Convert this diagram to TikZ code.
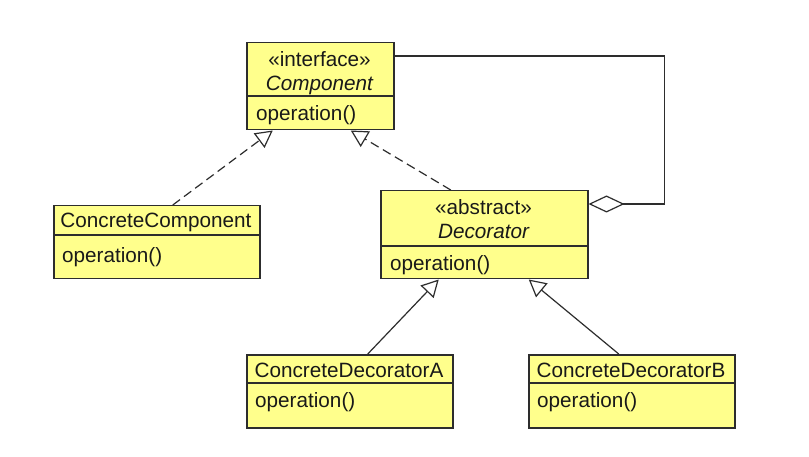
\documentclass[tikz,border=0pt]{standalone}
\usepackage{fontspec}
\setmainfont{Liberation Sans}
\usetikzlibrary{arrows.meta}
\definecolor{classfill}{RGB}{255,255,140}
\definecolor{classline}{RGB}{45,45,45}
\tikzstyle{classbox} = [draw=classline, line width=1.5pt, fill=classfill, anchor=north west, inner sep=0pt]
\tikzstyle{divider} = [draw=classline, line width=1.4pt]
\tikzstyle{classname} = [anchor=base, inner sep=0pt, text=black!90]
\tikzstyle{optext} = [anchor=base west, inner sep=0pt, text=black!90]
\tikzstyle{realize} = [draw=classline, line width=1.2pt, dash pattern=on 9pt off 5pt, -{Triangle[length=17pt,width=18pt,fill=white]}]
\tikzstyle{inherit} = [draw=classline, line width=1.2pt, -{Triangle[length=17pt,width=18pt,fill=white]}]
\tikzstyle{aggregate} = [draw=classline, line width=1.2pt, {Diamond[length=36pt,width=17pt,fill=white]}-]

\begin{document}
\begin{tikzpicture}[x=1pt, y=-1pt, font=\fontsize{20.7}{24}\selectfont]
  \fill[white] (0,0) rectangle (809,457);
  \useasboundingbox (0,0) rectangle (809,457);

  % class boxes
  \node[classbox, minimum width=147pt, minimum height=87pt] (comp) at (246,42) {};
  \node[classbox, minimum width=206pt, minimum height=73pt] (concomp) at (53,205) {};
  \node[classbox, minimum width=207pt, minimum height=88pt] (deco) at (380,190) {};
  \node[classbox, minimum width=206pt, minimum height=73pt] (decoA) at (246,354) {};
  \node[classbox, minimum width=206pt, minimum height=73pt] (decoB) at (528,354) {};

  % compartments
  \draw[divider] (comp.west |- 0,96) -- (comp.east |- 0,96);
  \draw[divider] (concomp.west |- 0,235) -- (concomp.east |- 0,235);
  \draw[divider] (deco.west |- 0,246) -- (deco.east |- 0,246);
  \draw[divider] (decoA.west |- 0,383) -- (decoA.east |- 0,383);
  \draw[divider] (decoB.west |- 0,383) -- (decoB.east |- 0,383);

  % texts
  \node[classname] (compst) at (319.5,67) {«interface»};
  \node[classname] (compname) at (319.5,91) {\itshape Component};
  \node[optext] (compop) at (256,121) {operation()};

  \node[classname] (concompname) at (156,228) {ConcreteComponent};
  \node[optext] (concompop) at (62,262) {operation()};

  \node[classname] (decost) at (483.5,215) {«abstract»};
  \node[classname] (deconame) at (483.5,239) {\itshape Decorator};
  \node[optext] (decoop) at (390,271) {operation()};

  \node[classname] (decoAname) at (349,377) {ConcreteDecoratorA};
  \node[optext] (decoAop) at (255,407) {operation()};

  \node[classname] (decoBname) at (631,377) {ConcreteDecoratorB};
  \node[optext] (decoBop) at (537,407) {operation()};

  % relations
  \draw[realize] ([xshift=16pt]concomp.north) -- ([xshift=-47.5pt]comp.south);
  \draw[realize] ([xshift=-33.5pt]deco.north) -- ([xshift=30.5pt]comp.south);
  \draw[inherit] ([xshift=18pt]decoA.north) -- ([xshift=-45.5pt]deco.south);
  \draw[inherit] ([xshift=-13pt]decoB.north) -- ([xshift=44.5pt]deco.south);
  \draw[aggregate] ([yshift=-14pt]deco.north east) -- ++(76,0) |- ([yshift=-14pt]comp.north east);
\end{tikzpicture}
\end{document}
